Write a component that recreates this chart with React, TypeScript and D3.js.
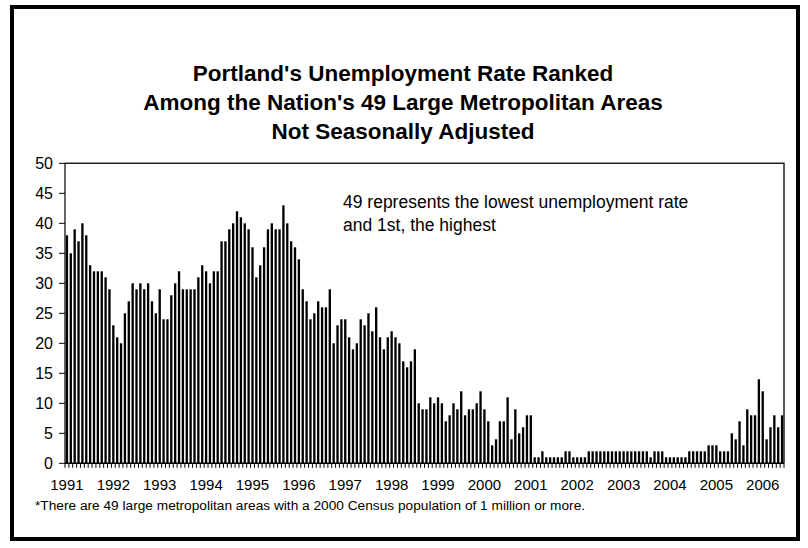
import React from "react";
import * as d3 from "d3";

const r1991 = [38, 35, 39, 37, 40, 38, 33, 32, 32, 32, 31, 29];
const r1992 = [23, 21, 20, 25, 27, 30, 29, 30, 29, 30, 27, 25];
const r1993 = [29, 24, 24, 28, 30, 32, 29, 29, 29, 29, 31, 33];
const r1994 = [32, 30, 32, 32, 37, 37, 39, 40, 42, 41, 40, 39];
const r1995 = [36, 31, 33, 36, 39, 40, 39, 39, 43, 40, 37, 36];
const r1996 = [34, 29, 27, 24, 25, 27, 26, 26, 29, 20, 23, 24];
const r1997 = [24, 21, 19, 20, 24, 23, 25, 22, 26, 21, 19, 21];
const r1998 = [22, 21, 20, 17, 16, 17, 19, 10, 9, 9, 11, 10];
const r1999 = [11, 10, 7, 8, 10, 9, 12, 8, 9, 9, 10, 12];
const r2000 = [9, 7, 3, 4, 7, 7, 11, 4, 9, 5, 6, 8];
const r2001 = [8, 1, 1, 2, 1, 1, 1, 1, 1, 2, 2, 1];
const r2002 = [1, 1, 1, 2, 2, 2, 2, 2, 2, 2, 2, 2];
const r2003 = [2, 2, 2, 2, 2, 2, 2, 1, 2, 2, 2, 1];
const r2004 = [1, 1, 1, 1, 1, 2, 2, 2, 2, 2, 3, 3];
const r2005 = [3, 2, 2, 2, 5, 4, 7, 3, 9, 8, 8, 14];
const r2006 = [12, 4, 6, 8, 6, 8];

const years = [
  "1991", "1992", "1993", "1994", "1995", "1996", "1997", "1998",
  "1999", "2000", "2001", "2002", "2003", "2004", "2005", "2006",
];
const yTicks = [0, 5, 10, 15, 20, 25, 30, 35, 40, 45, 50];

const ranks = [
  ...r1991, ...r1992, ...r1993, ...r1994, ...r1995, ...r1996, ...r1997, ...r1998,
  ...r1999, ...r2000, ...r2001, ...r2002, ...r2003, ...r2004, ...r2005, ...r2006,
];

const W = 808;
const H = 548;
const left = 65;
const right = 784;
const top = 163.3;
const bottom = 463.3;
const font = "'Liberation Sans', Arial, sans-serif";

export default function App() {
  const idx = ranks.map((_, i) => i);
  const x = d3.scaleBand<number>().domain(idx).range([left, right]).paddingInner(0.4).paddingOuter(0.2);
  const y = d3.scaleLinear().domain([0, 50]).range([bottom, top]);
  const boundaries = d3.range(ranks.length + 1).map((i) => left + i * ((right - left) / ranks.length));

  return (
    <svg width={W} height={H} style={{ position: "absolute", left: 0, top: 0, display: "block", background: "#fff" }}>
      <rect x={0} y={0} width={W} height={H} fill="#fff" />
      <rect x={12} y={7} width={786} height={532} fill="none" stroke="#000" strokeWidth={4} />

      <g fontFamily={font} fontWeight="bold" fontSize={22.5} textAnchor="middle" fill="#000">
        <text x={403} y={81}>Portland's Unemployment Rate Ranked</text>
        <text x={403} y={110}>Among the Nation's 49 Large Metropolitan Areas</text>
        <text x={403} y={139}>Not Seasonally Adjusted</text>
      </g>

      {ranks.map((v, i) => (
        <rect key={i} x={x(i)} y={y(v)} width={x.bandwidth()} height={bottom - y(v)} fill="#000" />
      ))}

      <path d={`M${left},${top}H${right}V${bottom}`} fill="none" stroke="#222" strokeWidth={1.5} />
      <line x1={left} x2={left} y1={top} y2={bottom} stroke="#000" strokeWidth={1.2} />
      <line x1={left} x2={right} y1={bottom} y2={bottom} stroke="#000" strokeWidth={1.5} />

      {boundaries.map((bx, i) => (
        <line key={i} x1={bx} x2={bx} y1={bottom} y2={bottom + 4.5} stroke="#000" strokeWidth={1} />
      ))}

      {yTicks.map((t) => (
        <g key={t}>
          <line x1={left - 6} x2={left} y1={y(t)} y2={y(t)} stroke="#000" strokeWidth={1} />
          <text x={53} y={y(t) + 5.5} textAnchor="end" fontFamily={font} fontSize={16} fill="#000">
            {t}
          </text>
        </g>
      ))}

      {years.map((yr, k) => (
        <text
          key={yr}
          x={(x(k * 12) ?? 0) + x.bandwidth() / 2}
          y={490}
          textAnchor="middle"
          fontFamily={font}
          fontSize={15}
          fill="#000"
        >
          {yr}
        </text>
      ))}

      <g fontFamily={font} fontSize={17.5} fill="#000">
        <text x={343} y={208}>49 represents the lowest unemployment rate</text>
        <text x={343} y={231}>and 1st, the highest</text>
      </g>

      <text x={35} y={510} fontFamily={font} fontSize={13.7} fill="#000">
        *There are 49 large metropolitan areas with a 2000 Census population of 1 million or more.
      </text>
    </svg>
  );
}
